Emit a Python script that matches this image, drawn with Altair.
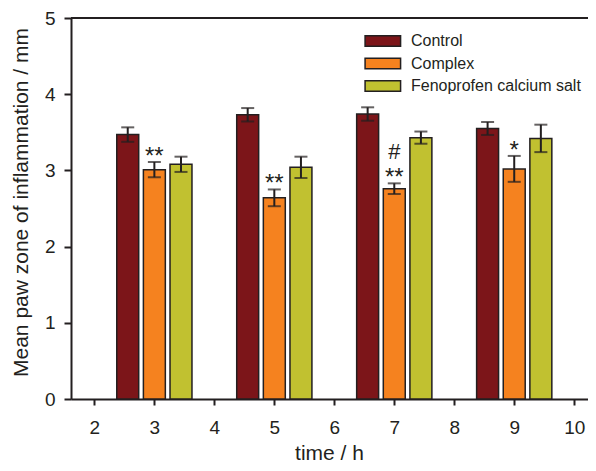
import altair as alt
import pandas as pd

# ---- data ----
times = [3, 5, 7, 9]
series = ["Control", "Complex", "Fenoprofen calcium salt"]
control_mean = [3.47, 3.73, 3.74, 3.55]
control_err = [0.095, 0.088, 0.088, 0.085]
complex_mean = [3.01, 2.64, 2.76, 3.02]
complex_err = [0.10, 0.11, 0.07, 0.17]
feno_mean = [3.08, 3.04, 3.43, 3.42]
feno_err = [0.10, 0.14, 0.08, 0.18]
sig_marks = ["**", "**", "**", "*"]
hash_marks = ["", "", "#", ""]
x_ticks = [2, 3, 4, 5, 6, 7, 8, 9, 10]
y_ticks = [0, 1, 2, 3, 4, 5]
colors = ["#7c1519", "#f5821f", "#c1c130"]

INK = "#231f20"
FONT = "Liberation Sans"
GROUP_STEP = 0.444
HALF_W = 0.183

rows = []
for si, (name, means, errs) in enumerate(
    [(series[0], control_mean, control_err),
     (series[1], complex_mean, complex_err),
     (series[2], feno_mean, feno_err)]):
    for t, m, e in zip(times, means, errs):
        rows.append({"time": t, "series": name, "idx": si, "mean": m, "err": e})
df = pd.DataFrame(rows)

ann = pd.DataFrame({"time": times, "mean": complex_mean, "err": complex_err,
                    "sig": sig_marks, "hash": hash_marks})

xscale = alt.Scale(domain=[1.61, 10.23], nice=False, zero=False)
yscale = alt.Scale(domain=[0, 5], nice=False)

xaxis = alt.Axis(values=x_ticks, format="d", title="time / h", grid=False,
                 labelFontSize=19, labelFont=FONT, labelColor=INK, labelPadding=13,
                 tickSize=6, tickWidth=2, tickColor=INK, domainColor=INK, domainWidth=2,
                 titleFontSize=21, titleFont=FONT, titleFontWeight="normal", titleColor=INK,
                 titleBaseline="alphabetic", titleX=258, titleY=60, labelFlush=False)
yaxis = alt.Axis(values=y_ticks, format="d", title="Mean paw zone of inflammation / mm",
                 grid=False,
                 labelFontSize=19, labelFont=FONT, labelColor=INK, labelPadding=9,
                 tickSize=7, tickWidth=2, tickColor=INK, domainColor=INK, domainWidth=2,
                 titleFontSize=21, titleFont=FONT, titleFontWeight="normal", titleColor=INK,
                 titleBaseline="alphabetic", titleAngle=270, titleX=-44, titleY=184,
                 labelFlush=False)

base = alt.Chart(df).transform_calculate(
    xc=f"datum.time + (datum.idx - 1) * {GROUP_STEP}",
    x0=f"datum.time + (datum.idx - 1) * {GROUP_STEP} - {HALF_W}",
    x1=f"datum.time + (datum.idx - 1) * {GROUP_STEP} + {HALF_W}",
    lo="datum.mean - datum.err",
    hi="datum.mean + datum.err",
)

bars = base.mark_rect(stroke=INK, strokeWidth=1.5).encode(
    x=alt.X("x0:Q", scale=xscale, axis=xaxis),
    x2="x1:Q",
    y=alt.Y("mean:Q", scale=yscale, axis=yaxis),
    y2=alt.datum(0),
    color=alt.Color("series:N", scale=alt.Scale(domain=series, range=colors),
                    legend=alt.Legend(title=None, orient="none", legendX=292, legendY=15,
                                      symbolType="M-1,-0.9H5V0.9H-1Z", symbolSize=140,
                                      symbolStrokeColor=INK, symbolStrokeWidth=1.5,
                                      symbolOpacity=1, labelLimit=400,
                                      labelFontSize=16, labelFont=FONT, labelColor=INK,
                                      labelOffset=32, rowPadding=4.5, padding=0)),
)

err_rule = base.mark_rule(color=INK, strokeWidth=2).encode(
    x="xc:Q", y="lo:Q", y2="hi:Q")
cap_hi = base.mark_tick(color=INK, orient="horizontal", size=13, thickness=2).encode(
    x="xc:Q", y="hi:Q")
cap_lo = base.mark_tick(color=INK, orient="horizontal", size=13, thickness=2).encode(
    x="xc:Q", y="lo:Q")

ann_base = alt.Chart(ann).transform_calculate(top="datum.mean + datum.err")
sig_text = ann_base.mark_text(baseline="alphabetic", align="center", fontSize=24,
                              font=FONT, color=INK, dy=2).encode(
    x="time:Q", y="top:Q", text="sig:N")
hash_text = ann_base.mark_text(baseline="alphabetic", align="center", fontSize=22,
                               font=FONT, color=INK, dy=-24).encode(
    x="time:Q", y="top:Q", text="hash:N")

top_line = alt.Chart(pd.DataFrame({"ytop": [5]})).mark_rule(
    color=INK, strokeWidth=2).encode(y=alt.Y("ytop:Q", scale=yscale))

chart = alt.layer(bars, err_rule, cap_hi, cap_lo, sig_text, hash_text, top_line).properties(
    width=517, height=381,
    padding={"left": 63, "top": 10, "right": 0, "bottom": 64},
    autosize=alt.AutoSizeParams(type="none"),
).configure_view(stroke=None).configure(background="white")

chart.save("out.html", embed_options={"renderer": "svg", "actions": False})
